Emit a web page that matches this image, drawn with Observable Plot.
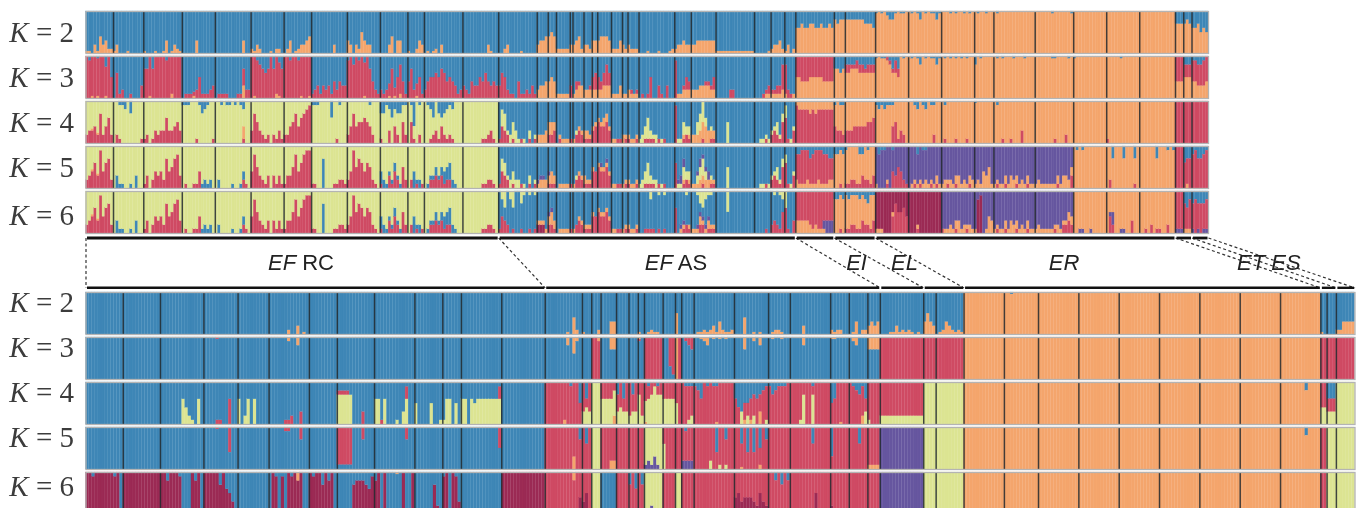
<!DOCTYPE html>
<html><head><meta charset="utf-8">
<script src="https://cdn.jsdelivr.net/npm/d3@7"></script>
<script src="https://cdn.jsdelivr.net/npm/@observablehq/plot@0.6"></script>
<style>
html,body{margin:0;padding:0;background:#fff;overflow:hidden}
#wrap{width:1357px;height:508px;overflow:hidden;filter:blur(.4px)}
#wrap svg{display:block;background:transparent}
#wrap svg:last-child{margin-top:-6px;position:relative}
</style></head><body><div id="wrap"></div>
<script>
// Individuals per sampled population
const topSizes=[10,11,14,12,13,12,10,13,12,10,6,14,13, 14,4,3,5,1,4,3,2,5,4,2,4,13,6,9,14,6,5,4, 14, 4,11, 12,12,12,7,15,14,12,12,13, 3,3, 6];
const botSizes=[12,12,14,11,10,13,9,12,13,9,6,13,14, 12,3,3,5,4,3,2,6,4,2,4,13,11,7,13,6,6,4, 14, 4,9, 13,11,13,13,13,13,13,13,13, 2,3, 6];
// Populations per taxon, both panels
const taxa=["EF RC","EF AS","EI","EL","ER","ET","ES"];
const topTaxonBlocks=[13,19,1,2,9,2,1];
const botTaxonBlocks=[13,18,1,2,9,2,1];
const kValues=[2,3,4,5,6];
// Membership tenths per individual ("a" = 1, "x" = .05, "z" = .95, one character = whole population, _n = n empty populations)
// TOP K=2
const t2_fill="b";
const t2_orange="xx02x42311 x2000x00000 x000x00x30x21x 000003000000 0000000000300 1x21000x0110 0130x12234 0000000020000 320215322000 0002403300 x00132 0x0x1020000000 0000000002x00 00120000x00000 2334 454 11111 2 2341 221 33 34443 1113 21 2111 000x000x000x1 122322 223333333 x 00000x 12231 x201 66766776676676 8788 88888887776 zaza988zazza azaz8azazz8z aaazazaazaza azaazaa azaaaaaaaaaaaaa aaaaaazaaaaaaz a a a 777 787 667565";
// TOP K=3
const t3_fill="b";
const t3_orange="00x0x00x00 0 00x00000001000 0000x0000000 0000000000300 0x00000001x0 000000x00x 0 000000x00000 000x0x0100 000x00 0 0 0 2334 454 11111 0 1233 222 22 22333 1113 11 2111 0 011222 222333322 0 000011 11112 1001 55444555554444 7767 66777666666 zazz98665aza azaz8azazz8z azazazazazaa 8azaaaa azazaaazaaazaaa aaaaaazzaaaaza zaaaaaaaaaaa aaaaazaaaaaa a 444 555 443334";
const t3_red="a9aa9aa7a5 06120010003 77a7aaaa9aaaaa 011112511123 0111100011422 aa98767a7a87 aa9aa9aaaa 1231323142433 9a8a9a8a7421 2123725741 472351 24556576454312 3214335464343 36521104112131 0 0 0 3 0210 001 34 32353 0 0 0101 0101500310300 900132 000001113 00000220000000 000112 11226 7210 a 0 22112221222 000011132000 0 0 0 0 0 0 0 0 a 333 555566";
// TOP K=4
const t4_fill="yyyyyyyyyyyyybbbbbbbbbbbbbbbbbbbooooooooooooooo";
const t4_red="2334272462 02100000001 12013233633453 000001000001 0000000000100 375321202131 2245746789 0000000001000 247455654200 1003042052 051020 00123142121000 0000000112310 14320100100101 0 223 01000 1 0232 111 34 54453 0011 01 1001 0011110101000 900121 000010011 0 000010 23215 6103 98888787888888 4332 33344444556 000000451320 000000000200 010001000100 0000000 000100100030000 00000001000200 0 100000000000 0 a a a";
const t4_orange="00x0x00000 0 0 0 0000000000300 _4 0 0 0 0 0 2223 332 01111 0 1011 221 11 11221 1100 21 1111 0 000101 222344322";
const t4_yellow="_13 04412431010201 0 0 0 0 0100 _6 1235212010000 011322 003452010 00005000000000 001111 11312 3011";
const t4_blueTop="0 00112030000 0 111000132100 0010110101200 0 0 1110000400100 000000001000 3312423311 016010 01240343212000 0 _19 0 1011 0 121211100000 001201201100 010000000000 x000000 010000000000 0 _3 0 340 211122";
// TOP K=5
const t5_fill="yyyyyyyyyyyyybbbbbbbbbbbbbbbbbbbroopppppp"+"ooorrr";
const t5_red="2346394672 0 13024342745783 010011400000 0000000000210 485321303131 1335846899 1100000011221 249576465210 1003142052 020101 00223231220000 0000000112210 14320100100101 0 111 00000 1 0232 111 44 54453 0011 01 1001 0011110101000 600121 000010011 0 000010 23215 6103 0 0010 11221132213 000010435421 001010001010 001001000010 0 010010001000100 00000000100003 0 020000000010 0 0 0 0";
const t5_orange="00x0x00000 _12 0 1222 232 01111 0 1011 211 10 11111 1100 11 1111 0 000101 111222211 _4 21112111211122 0 0 100010000000 011111211121 121212312122 1214351 111121322121211 12111111213322 _3 000 010 000000";
const t5_yellow="_13 03312322010201 0 0 0 0 0100 _6 1235212010000 011322 002342010 00005000000000 001101 11312 2011";
const t5_purple="_13 0 1110 100 0 0 0 0 0 01010 0 0 0 0 012200 001211200";
const t5_blue="0 03110010300 0 000000012120 0200001001200 0 0 0000700000000 0 3211121100 004120 01112123342100 0";
const t5_top="_32 22111321112233 2212 10000220100 021100100000 000201100000 _4 010100000000 003000300030 0000003000101 000 433 213321";
// TOP K=6
const t6_fill="yyyyyyyyyyyyybbbbbbbbbbbbbbbbbbbroommppppooorrr";
const t6_red="2346394672 0 13024342745783 010011400000 0000000000210 485321303131 1335846899 1100000011221 249576465210 1003142052 020101 00223231220000 0000000112210 14320100100101 0 221 00000 1 0232 111 44 54453 0011 01 1001 0011110101000 600121 000220111 0 000010 23215 6103 0 0010 11221132213 000000475564 000100000000 100001000100 0 010010001000100 00000001002232 0 042000000300 0010201100200 0 0 0";
const t6_orange="00x0x00000 _13 1111 232 01111 0 1011 111 10 11111 1100 11 1111 0 001101 111211211 _4 33333212111000 0 0 111000100000 000100000000 011212312121 1000143 111121322121211 12111111211122 _3 000 111 000000";
const t6_purple="_14 0 110 0 0 0 0 0 0 0 0 0 0 001100 001111100 _4 00000000002333 0 0 0 0 0 0 0 0 001100100000 013001100000 0 111 000 101011";
const t6_maroon="_14 2220 000 _22 0890000";
const t6_blue="0 03110010300 0 000000012120 0200001001200 0 0 0000700000000 0 3211121100 004120 01112123342100 0";
const t6_yellowTop="_13 02402400310101 0 0 0 0 0 0 0 0 0 0 0 0000200101000 000010 001342110 00005000000000 000000 01012 4000";
const t6_blueTop="_32 0 2212 12111212311 _6 _3 000 342 323332";
// BOTTOM K=2
const b2_fill="bbbbbbbbbbbbbbbbbbbbbbbbbbbbbbbbbbooooooooobbb";
const b2_orange="_5 00000010020x0 _7 0000000x0410 x00 001 00033 0 0 x0 0x1xx0 0 50 0 0xx1x12x31xx1 000400x0x00 0x11x00 0000200000000 1x1100 0x3011 2323 000xx2x1x1x0x0 3532 0x1321x1x _9 x0 000 113333";
const b2_blueTop="_34 0 00x00000000 _2 0 0 0 0 0 _3";
// BOTTOM K=3
const b3_fill="bbbbbbbbbbbbb"+"bbrbbbbrbrbbbbbbbb"+"r"+"rr"+"ooooooooo"+"rrr";
const b3_orangeTop="_5 0000001002000 _7 000000020410 000 001 00033 0 0 x0 000000 0 a0 0 00x120x0x0x00 00030010200 0x00x00 0000200000000 xx0000 012000 3333 0 _2 _9 _3";
const b3_redTop="_3 0000x000000 _9 0 0 0 0 0 0 x0 0 0079 0 0123";
// BOTTOM K=4
const b4_fill="bbbbbbbbbbbbb"+"rrrrrrrrrrrrrrrrrr"+"r"+"yy"+"ooooooooo"+"rry";
const b4_yellow="_2 00000006421060 0 6026060000 0 0 777770000000 6606000103600 500005001 166050 6606566666666 0 0 343 a 66666 3433 233 72 567977 6666 50 0012 0 00302020001 0 0001700700000 0 000003 1000 2 a a _9 44 333 a";
const b4_red="_3 00001100600 0 0000011200300 0 111100003000 0010000000300 0 0 0000000000003";
const b4_orange="_13 000000100000 0 0 00002 0 0 0 x00000 0 00 0 0000000x00000 00010100300 0 0 000x00 000020";
const b4_blueTop="_13 000000001005 040 0 0 3040 030 00 010010 0 00 0111 1240101100000 46755434321 1321110 0000000100000 540000 012314 0 0 _2 _8 0000000020000 00 444";
// BOTTOM K=5
const b5_fill="bbbbbbbbbbbbb"+"rryrrrryrrrrrrrrrr"+"p"+"yy"+"ooooooooo"+"ryy";
const b5_redTop="_3 0000x000600 0 0000011000300 0 999990003000 0000000000300 0 0 0000000000005 0";
const b5_blueTop="_13 000000000003 040 0 0 _3 0 0 0 0100 0000000600300 00406060503 0 0000000400000 700000 000400 0 0 _2 _8 0000000020000";
const b5_orange="_13 000000000300 0 0 00022 _3 0 _3 0 00x00000100 0 0 0 0 1111";
const b5_yellow="_20 0 60 0 0 00000200101";
const b5_purple="_20 121310 0 0 2222";
// BOTTOM K=6
const b6_fill="bbbbbbbbbbbbm"+"rrybrrryryrrrrrrrr"+"p"+"yy"+"ooooooooo"+"ryy";
const b6_maroon="aa9aaaaaa9a1 a aa8aaa9000a8a0 aaaaa7a6531 0000111100 0a9090a9a8a10 a9aa7a8a0 000007888769 8a0a00000a00a 010001720 9a1a93 0 a 000000000004 350 0 0 0 0 0 0 0 0 0 0 45344432532 0 0000000050000 200000";
const b6_purple="_20 012100 0 0 0";
const b6_blueTop="_13 _5 3040 030 00 0 0 00 0 0 00203020103 0 0 0 0 0";
const b6_orangeTop="_5 0000001002000 _2 0000000x00000 _4 000000000200";

const palette={b:"#3e86b6",o:"#f4a56c",r:"#cf4a63",y:"#dce492",p:"#66569f",m:"#9b2a54"};
const clusterKeys=Object.keys(palette);

function parseBlocks(str,n){
  const out=[];
  for(const t of str.trim().split(/\s+/)){
    if(t[0]==="_"){const c=+t.slice(1);for(let i=0;i<c;i++)out.push("0");}
    else if(t) out.push(t);
  }
  return Array.from({length:n},(_,i)=>out[i]??"0");
}
const val=c=>c==="a"?1:c==="x"?.05:c==="z"?.95:(c===undefined?0:(+c)/10);
function rowBars(k,sizes,fillStr,ups,downs){
  const fills=fillStr.length===1?sizes.map(()=>fillStr):[...fillStr];
  const upT=ups.map(([c,s])=>[c,parseBlocks(s,sizes.length)]);
  const dnT=downs.map(([c,s])=>[c,parseBlocks(s,sizes.length)]);
  const rows=[];let i=0;
  sizes.forEach((n,b)=>{
    for(let j=0;j<n;j++,i++){
      const get=t=>val(t[b].length===1?t[b]:t[b][j]);
      let lo=0;
      for(const [c,t] of upT){const v=Math.min(get(t),1-lo);if(v>0){rows.push({k,x1:i,x2:i+1,y1:lo,y2:lo+v,c});lo+=v;}}
      let hi=1;
      for(const [c,t] of dnT){const v=Math.min(get(t),hi-lo);if(v>0){rows.push({k,x1:i,x2:i+1,y1:hi-v,y2:hi,c});hi-=v;}}
      if(hi>lo)rows.push({k,x1:i,x2:i+1,y1:lo,y2:hi,c:fills[b]});
    }
  });
  return rows;
}
const topBars=[
 ...rowBars(2,topSizes,t2_fill,[["o",t2_orange]],[]),
 ...rowBars(3,topSizes,t3_fill,[["o",t3_orange],["r",t3_red]],[]),
 ...rowBars(4,topSizes,t4_fill,[["r",t4_red],["o",t4_orange],["y",t4_yellow]],[["b",t4_blueTop]]),
 ...rowBars(5,topSizes,t5_fill,[["r",t5_red],["o",t5_orange],["y",t5_yellow],["p",t5_purple],["b",t5_blue]],[["b",t5_top]]),
 ...rowBars(6,topSizes,t6_fill,[["m",t6_maroon],["r",t6_red],["o",t6_orange],["p",t6_purple],["b",t6_blue]],[["y",t6_yellowTop],["b",t6_blueTop]])
];
const botBars=[
 ...rowBars(2,botSizes,b2_fill,[["o",b2_orange]],[["b",b2_blueTop]]),
 ...rowBars(3,botSizes,b3_fill,[],[["o",b3_orangeTop],["r",b3_redTop]]),
 ...rowBars(4,botSizes,b4_fill,[["o",b4_orange],["y",b4_yellow],["r",b4_red]],[["b",b4_blueTop]]),
 ...rowBars(5,botSizes,b5_fill,[["o",b5_orange],["y",b5_yellow],["p",b5_purple]],[["b",b5_blueTop],["r",b5_redTop]]),
 ...rowBars(6,botSizes,b6_fill,[["m",b6_maroon],["p",b6_purple]],[["b",b6_blueTop],["o",b6_orangeTop]])
];
const sum=a=>a.reduce((x,y)=>x+y,0);
function edges(sizes){const e=[0];sizes.forEach(s=>e.push(e[e.length-1]+s));return e;}
function taxonEdges(sizes,blocks){const e=edges(sizes);const out=[0];let b=0;blocks.forEach(n=>{b+=n;out.push(e[b]);});return out;}

function panel(bars,sizes,height,mLeft,mRight,mTop,mBottom,pad,labelY){
  const seps=kValues.flatMap(k=>edges(sizes).slice(1,-1).map(x=>({k,x})));
  const labels=kValues.map((k,i)=>({k,label:`K = ${k}`,ly:labelY[i]}));
  return Plot.plot({
    width:1357,height,marginLeft:mLeft,marginRight:mRight,marginTop:mTop,marginBottom:mBottom,
    style:{background:"transparent"},
    x:{domain:[0,sum(sizes)],axis:null},
    y:{domain:[0,1],axis:null},
    fy:{domain:kValues,axis:null,padding:pad},
    color:{domain:clusterKeys,range:clusterKeys.map(k=>palette[k])},
    marks:[
      Plot.rect(bars,{x1:"x1",x2:"x2",y1:"y1",y2:"y2",fill:"c",stroke:"c",strokeWidth:.25,fy:"k"}),
      Plot.ruleX(seps,{x:"x",fy:"k",stroke:"#22292e",strokeWidth:1.5,strokeOpacity:.85}),
      Plot.frame({stroke:"#b4b4b4",strokeWidth:1.3}),
      Plot.text(labels,{x:()=>0,y:"ly",fy:"k",text:"label",textAnchor:"end",dx:-12,fontSize:29,fontFamily:"Liberation Serif",fill:"#3c3c3c",className:"klabel"})
    ]
  });
}
const topPlot=panel(topBars,topSizes,235,85.5,149,10,1,.077,[.5,.5,.5,.5,.43]);
const botPlot=panel(botBars,botSizes,233,85.5,2.5,7,1,.068,[.76,.76,.76,.76,.67]);
const topX=topPlot.scale("x"), botX=botPlot.scale("x");
const tE=taxonEdges(topSizes,topTaxonBlocks), bE=taxonEdges(botSizes,botTaxonBlocks);
const links=tE.map((t,i)=>({x1:topX.apply(t),x2:botX.apply(bE[i])}));
const topSegs=taxa.map((n,i)=>({x1:topX.apply(tE[i])+1,x2:topX.apply(tE[i+1])-1}));
const botSegs=taxa.map((n,i)=>({x1:botX.apply(bE[i])+1,x2:botX.apply(bE[i+1])-1}));
const labelNudge=[-3,-4,-2,5,-20,-5,13];
const labelData=taxa.map((label,i)=>({label,x:(links[i].x1+links[i+1].x1+links[i].x2+links[i+1].x2)/4+labelNudge[i]}));
const midPlot=Plot.plot({
  width:1357,height:54,margin:0,marginTop:2.5,marginBottom:1.5,
  style:{background:"transparent"},
  x:{domain:[0,1357],axis:null},y:{domain:[0,1],axis:null},
  marks:[
    Plot.link(links,{x1:"x1",x2:"x2",y1:()=>1,y2:()=>0,stroke:"#333",strokeWidth:1.2,strokeDasharray:"3,2.5"}),
    Plot.link(topSegs,{x1:"x1",x2:"x2",y1:()=>1,y2:()=>1,stroke:"#111",strokeWidth:2.8}),
    Plot.link(botSegs,{x1:"x1",x2:"x2",y1:()=>0,y2:()=>0,stroke:"#111",strokeWidth:2.8}),
    Plot.text(labelData,{x:"x",y:()=>.5,text:"label",fontSize:22,fontFamily:"Liberation Sans",fill:"#222",className:"glabel"})
  ]
});
const wrap=document.getElementById("wrap");
wrap.append(topPlot,midPlot,botPlot);
// italic parts inside real text
d3.selectAll(".klabel text").each(function(){
  const t=this.textContent.slice(1);const s=d3.select(this);s.text("");
  s.append("tspan").attr("font-style","italic").text("K");s.append("tspan").text(t);
});
d3.selectAll(".glabel text").each(function(){
  const [a,b]=this.textContent.split(" ");const s=d3.select(this);s.text("");
  s.append("tspan").attr("font-style","italic").text(a);if(b)s.append("tspan").text(" "+b);
});
</script></body></html>
